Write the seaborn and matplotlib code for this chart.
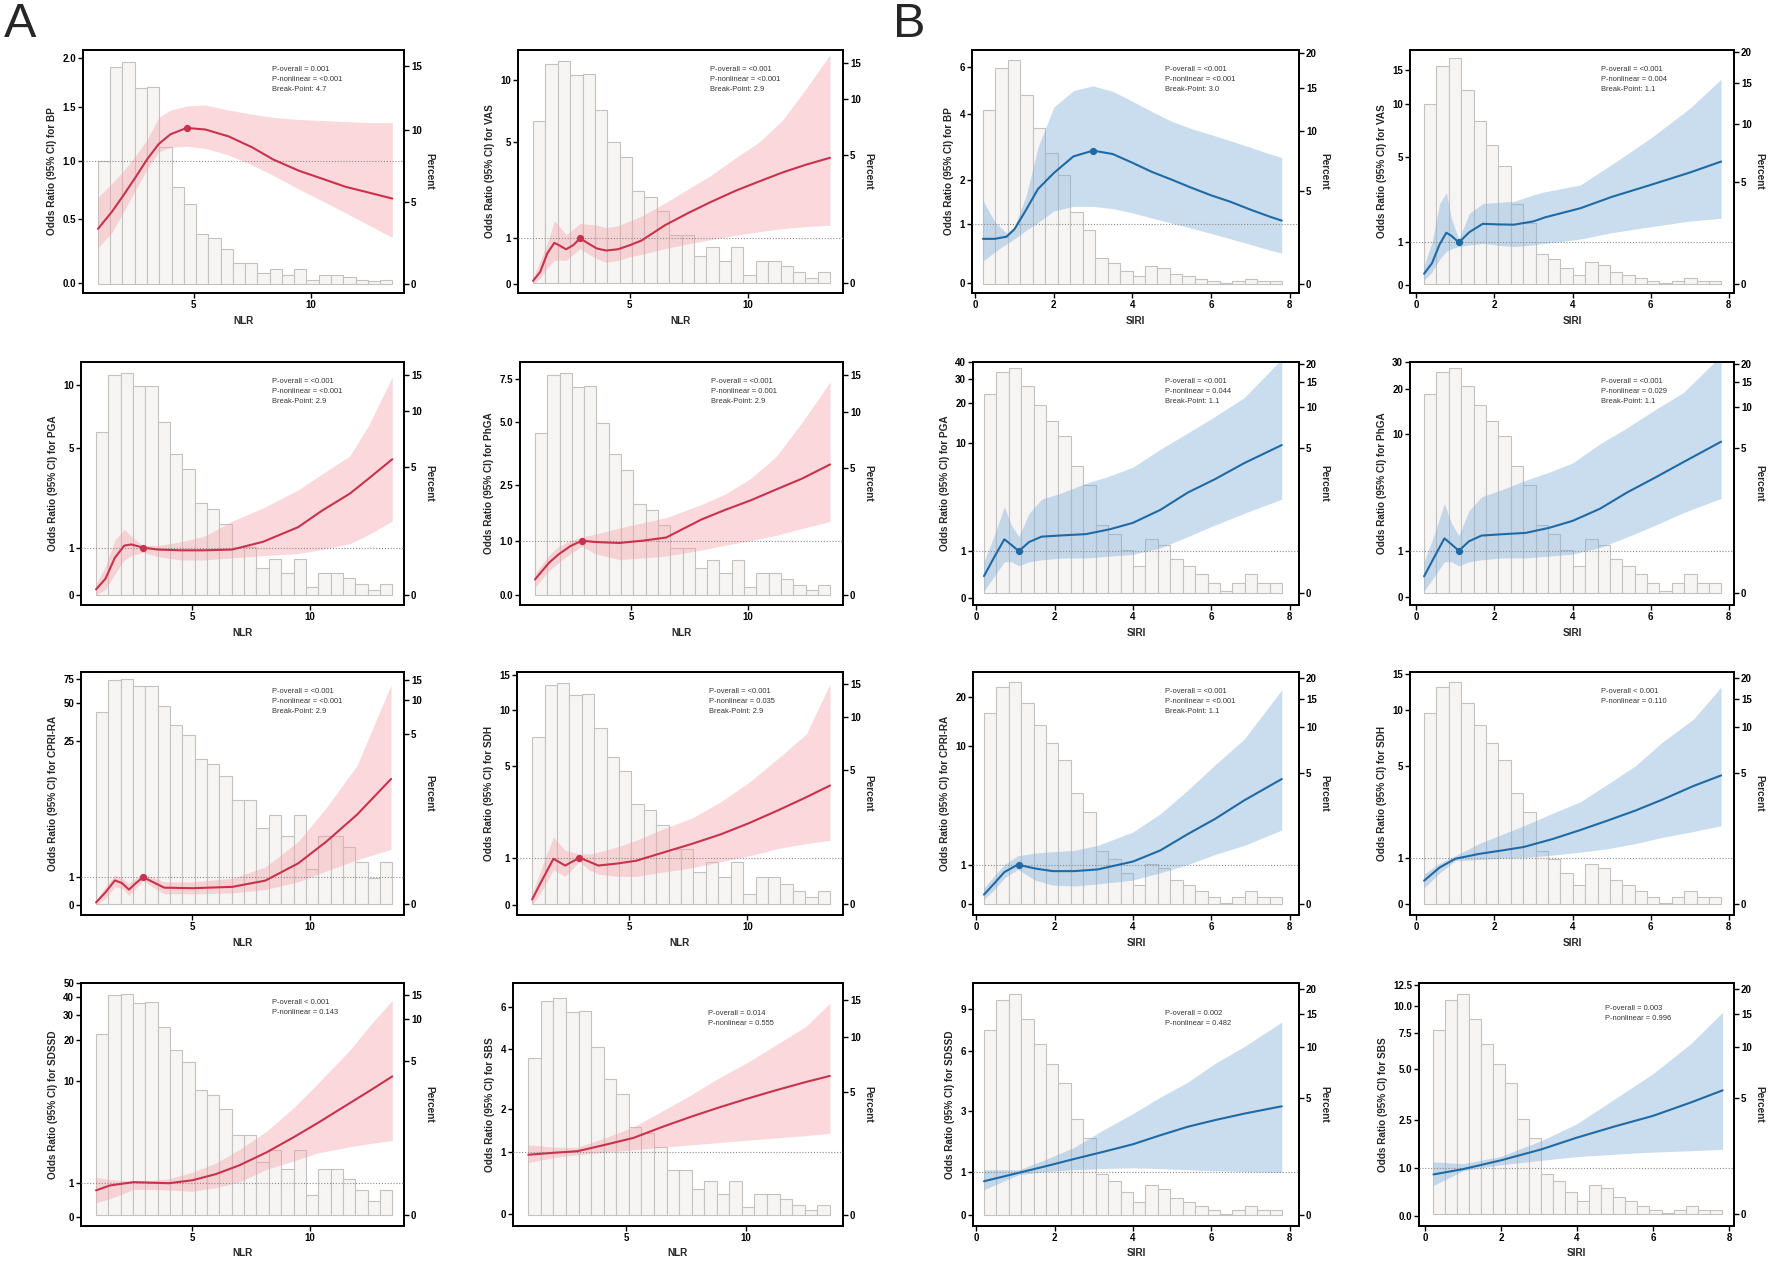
import numpy as np
import pandas as pd
import matplotlib.pyplot as plt
import seaborn as sns

# ============================================
# RCS curves (OR with 95% CI) for NLR and SIRI
# ============================================

# Histogram of the exposure (percent of patients per bin)
NLR_BIN_START, NLR_BIN_WIDTH = 0.9, 0.525
SIRI_BIN_START, SIRI_BIN_WIDTH = 0.2, 0.317
NLR_PCT = [7.8, 14.9, 15.3, 13.2, 13.3, 8.8, 6.0, 4.9, 2.96, 2.7, 2.07, 1.22,
           1.22, 0.63, 0.86, 0.51, 0.86, 0.18, 0.51, 0.51, 0.37, 0.23, 0.12, 0.23]
SIRI_PCT = [12.3, 17.7, 18.9, 14.1, 10.3, 7.96, 6.15, 3.6, 2.56, 1.1, 0.88, 0.55,
            0.31, 0.76, 0.65, 0.41, 0.31, 0.2, 0.1, 0.02, 0.1, 0.2, 0.1, 0.1]

# ---- NLR panels ----
A_BP_X = [0.9, 1.5, 2.0, 2.5, 3.0, 3.5, 4.0, 4.7, 5.5, 6.5, 7.5, 8.4, 9.5, 10.5, 11.5, 12.5, 13.5]
A_BP_OR = [0.42, 0.56, 0.70, 0.85, 1.01, 1.15, 1.24, 1.30, 1.285, 1.22, 1.12, 1.01, 0.91, 0.84, 0.77, 0.72, 0.67]
A_BP_LO = [0.27, 0.39, 0.56, 0.74, 0.92, 1.08, 1.12, 1.13, 1.11, 1.05, 0.96, 0.87, 0.75, 0.65, 0.55, 0.45, 0.35]
A_BP_HI = [0.68, 0.80, 0.91, 1.04, 1.19, 1.40, 1.47, 1.51, 1.52, 1.47, 1.43, 1.40, 1.38, 1.37, 1.36, 1.35, 1.35]

A_VAS_X = [0.9, 1.2, 1.5, 1.8, 2.0, 2.3, 2.6, 2.9, 3.2, 3.6, 4.0, 4.5, 5.0, 5.5, 6.5, 7.5, 8.4, 9.5, 10.5, 11.5, 12.5, 13.5]
A_VAS_OR = [0.05, 0.22, 0.62, 0.88, 0.82, 0.72, 0.82, 1.0, 0.88, 0.74, 0.69, 0.72, 0.82, 0.94, 1.37, 1.76, 2.12, 2.57, 2.96, 3.37, 3.75, 4.1]
A_VAS_LO = [0.0, 0.1, 0.3, 0.46, 0.47, 0.46, 0.6, 0.74, 0.62, 0.5, 0.42, 0.46, 0.54, 0.6, 0.74, 0.86, 0.96, 1.08, 1.18, 1.27, 1.33, 1.37]
A_VAS_HI = [0.1, 0.45, 0.86, 1.5, 1.35, 1.1, 1.25, 1.43, 1.4, 1.37, 1.3, 1.35, 1.5, 1.65, 2.1, 2.65, 3.2, 4.1, 5.0, 6.5, 9.2, 13.0]

A_PGA_X = [0.9, 1.3, 1.7, 2.1, 2.4, 2.9, 3.5, 4.5, 5.5, 6.7, 8.0, 9.5, 10.5, 11.7, 12.5, 13.5]
A_PGA_OR = [0.1, 0.3, 0.75, 1.05, 1.08, 1.0, 0.95, 0.93, 0.93, 0.95, 1.15, 1.57, 2.1, 2.75, 3.4, 4.36]
A_PGA_LO = [0.0, 0.1, 0.4, 0.7, 0.8, 0.88, 0.78, 0.7, 0.7, 0.75, 0.8, 0.85, 0.95, 1.1, 1.35, 1.76]
A_PGA_HI = [0.2, 0.55, 1.2, 1.5, 1.3, 1.05, 1.05, 1.15, 1.3, 1.76, 2.2, 2.9, 3.6, 4.55, 6.5, 10.8]

A_PHGA_X = [0.9, 1.5, 1.9, 2.4, 2.9, 3.5, 4.5, 5.5, 6.5, 8.0, 9.0, 10.1, 11.2, 12.3, 13.5]
A_PHGA_OR = [0.25, 0.55, 0.71, 0.88, 1.0, 0.97, 0.95, 1.0, 1.07, 1.5, 1.75, 2.02, 2.35, 2.7, 3.2]
A_PHGA_LO = [0.12, 0.4, 0.55, 0.72, 0.88, 0.72, 0.61, 0.64, 0.68, 0.8, 0.9, 1.0, 1.12, 1.28, 1.45]
A_PHGA_HI = [0.35, 0.7, 0.87, 1.0, 1.08, 1.15, 1.29, 1.42, 1.55, 1.9, 2.2, 2.7, 3.5, 5.0, 7.3]

A_CPRI_X = [0.9, 1.3, 1.7, 2.0, 2.3, 2.6, 2.9, 3.3, 3.8, 5.0, 6.7, 8.1, 9.5, 10.7, 12.0, 13.45]
A_CPRI_OR = [0.08, 0.4, 0.86, 0.75, 0.5, 0.75, 1.0, 0.8, 0.57, 0.55, 0.6, 0.85, 1.7, 3.2, 6.0, 12.4]
A_CPRI_LO = [0.0, 0.2, 0.6, 0.55, 0.3, 0.55, 0.85, 0.6, 0.35, 0.35, 0.38, 0.5, 0.8, 1.3, 1.9, 2.6]
A_CPRI_HI = [0.15, 0.6, 1.1, 0.95, 0.75, 0.95, 1.15, 1.0, 0.8, 0.8, 0.95, 1.5, 3.2, 7.0, 16.0, 68.0]

A_SDH_X = [0.9, 1.3, 1.8, 2.3, 2.9, 3.3, 3.7, 4.5, 5.3, 6.5, 7.7, 8.9, 10.1, 11.3, 12.5, 13.5]
A_SDH_OR = [0.1, 0.45, 0.97, 0.8, 1.0, 0.9, 0.8, 0.85, 0.92, 1.15, 1.4, 1.7, 2.1, 2.6, 3.2, 3.8]
A_SDH_LO = [0.0, 0.25, 0.7, 0.55, 0.9, 0.7, 0.6, 0.55, 0.55, 0.65, 0.75, 0.9, 1.05, 1.25, 1.4, 1.5]
A_SDH_HI = [0.2, 0.75, 1.6, 1.2, 1.1, 1.1, 1.15, 1.3, 1.5, 1.9, 2.3, 3.0, 4.0, 5.5, 7.5, 13.5]

A_SDSSD_X = [0.9, 1.5, 2.5, 3.2, 4.0, 5.0, 6.0, 7.0, 8.15, 9.3, 10.3, 11.7, 12.6, 13.5]
A_SDSSD_OR = [0.73, 0.9, 1.02, 1.0, 0.98, 1.09, 1.34, 1.74, 2.43, 3.43, 4.58, 6.78, 8.6, 10.9]
A_SDSSD_LO = [0.36, 0.47, 0.76, 0.76, 0.74, 0.7, 0.82, 1.03, 1.55, 1.95, 2.39, 2.78, 3.0, 3.2]
A_SDSSD_HI = [1.2, 1.12, 1.05, 1.08, 1.15, 1.42, 1.85, 2.6, 3.9, 6.2, 9.5, 17.0, 26.0, 38.0]

A_SBS_X = [0.9, 2.0, 2.95, 4.1, 5.3, 6.5, 7.7, 8.9, 10.1, 11.3, 12.5, 13.5]
A_SBS_OR = [0.95, 0.99, 1.02, 1.15, 1.3, 1.55, 1.8, 2.05, 2.3, 2.55, 2.8, 3.0]
A_SBS_LO = [0.8, 0.9, 0.95, 1.0, 1.05, 1.1, 1.15, 1.2, 1.25, 1.3, 1.35, 1.4]
A_SBS_HI = [1.15, 1.1, 1.1, 1.3, 1.55, 1.95, 2.4, 2.95, 3.5, 4.2, 5.0, 6.2]

# ---- SIRI panels ----
B_BP_X = [0.2, 0.5, 0.8, 1.0, 1.3, 1.6, 2.0, 2.5, 3.0, 3.5, 4.0, 4.5, 5.0, 5.5, 6.0, 6.5, 7.0, 7.5, 7.8]
B_BP_OR = [0.72, 0.72, 0.76, 0.9, 1.3, 1.77, 2.17, 2.63, 2.8, 2.7, 2.45, 2.2, 2.0, 1.8, 1.62, 1.47, 1.3, 1.15, 1.07]
B_BP_LO = [0.34, 0.49, 0.63, 0.72, 0.88, 1.03, 1.27, 1.37, 1.37, 1.32, 1.23, 1.12, 1.02, 0.92, 0.82, 0.72, 0.62, 0.52, 0.47]
B_BP_HI = [1.5, 1.05, 0.82, 0.95, 1.62, 2.9, 4.27, 4.93, 5.13, 4.9, 4.5, 4.1, 3.75, 3.5, 3.3, 3.1, 2.9, 2.7, 2.6]

B_VAS_X = [0.2, 0.4, 0.6, 0.77, 0.9, 1.09, 1.36, 1.7, 2.1, 2.5, 3.0, 3.3, 4.2, 5.0, 6.0, 7.0, 7.8]
B_VAS_OR = [0.22, 0.45, 0.95, 1.3, 1.2, 1.0, 1.32, 1.6, 1.58, 1.57, 1.69, 1.84, 2.2, 2.7, 3.3, 4.0, 4.7]
B_VAS_LO = [0.09, 0.25, 0.55, 0.75, 0.82, 0.88, 0.93, 0.97, 0.92, 0.88, 0.93, 0.97, 1.1, 1.3, 1.5, 1.7, 1.8]
B_VAS_HI = [0.4, 1.0, 2.4, 2.9, 1.8, 1.1, 2.0, 2.4, 2.45, 2.5, 2.8, 2.95, 3.3, 4.5, 6.5, 9.5, 13.5]

B_PGA_X = [0.2, 0.45, 0.72, 0.9, 1.09, 1.35, 1.67, 2.2, 2.8, 3.4, 4.0, 4.7, 5.4, 6.1, 6.84, 7.8]
B_PGA_OR = [0.37, 0.8, 1.4, 1.2, 1.0, 1.3, 1.5, 1.55, 1.6, 1.8, 2.1, 2.8, 4.0, 5.2, 7.0, 9.7]
B_PGA_LO = [0.1, 0.35, 0.7, 0.7, 0.6, 0.7, 0.75, 0.8, 0.8, 0.85, 0.9, 1.1, 1.5, 2.0, 2.6, 3.5]
B_PGA_HI = [0.7, 1.5, 3.0, 2.0, 1.5, 2.6, 3.5, 4.0, 4.8, 5.5, 6.5, 9.0, 12.0, 16.0, 22.0, 42.0]

B_PHGA_X = [0.2, 0.45, 0.72, 0.9, 1.09, 1.35, 1.67, 2.2, 2.8, 3.4, 4.0, 4.7, 5.4, 6.1, 6.84, 7.8]
B_PHGA_OR = [0.37, 0.8, 1.4, 1.2, 1.0, 1.3, 1.5, 1.55, 1.6, 1.8, 2.1, 2.7, 3.7, 4.8, 6.3, 8.8]
B_PHGA_LO = [0.1, 0.35, 0.7, 0.7, 0.6, 0.7, 0.75, 0.8, 0.8, 0.85, 0.9, 1.1, 1.45, 1.9, 2.5, 3.3]
B_PHGA_HI = [0.7, 1.5, 3.0, 2.0, 1.5, 2.6, 3.4, 3.9, 4.6, 5.3, 6.2, 8.5, 11.0, 14.5, 19.0, 33.0]

B_CPRI_X = [0.2, 0.45, 0.72, 1.06, 1.5, 1.95, 2.5, 3.1, 4.0, 4.7, 5.4, 6.1, 6.84, 7.8]
B_CPRI_OR = [0.2, 0.45, 0.77, 1.0, 0.88, 0.8, 0.8, 0.85, 1.1, 1.5, 2.2, 3.0, 4.2, 6.0]
B_CPRI_LO = [0.1, 0.3, 0.6, 0.85, 0.55, 0.42, 0.4, 0.45, 0.55, 0.75, 1.0, 1.35, 1.7, 2.4]
B_CPRI_HI = [0.35, 0.65, 1.0, 1.3, 1.4, 1.45, 1.5, 1.7, 2.3, 3.3, 5.0, 7.5, 11.0, 22.0]

B_SDH_X = [0.2, 0.6, 1.0, 1.6, 2.2, 2.75, 3.5, 4.2, 4.9, 5.6, 6.3, 7.1, 7.8]
B_SDH_OR = [0.45, 0.75, 0.97, 1.1, 1.2, 1.3, 1.55, 1.85, 2.2, 2.6, 3.1, 3.8, 4.4]
B_SDH_LO = [0.3, 0.62, 0.92, 0.95, 0.98, 1.0, 1.07, 1.15, 1.25, 1.4, 1.6, 1.8, 2.0]
B_SDH_HI = [0.6, 0.85, 1.05, 1.4, 1.7, 2.0, 2.5, 3.0, 3.9, 5.0, 6.8, 9.0, 13.0]

B_SDSSD_X = [0.2, 1.1, 1.8, 2.5, 3.2, 4.0, 4.7, 5.4, 6.1, 6.84, 7.8]
B_SDSSD_OR = [0.75, 0.97, 1.15, 1.35, 1.55, 1.8, 2.1, 2.4, 2.65, 2.9, 3.2]
B_SDSSD_LO = [0.55, 0.92, 1.0, 1.05, 1.08, 1.1, 1.08, 1.05, 1.02, 1.0, 0.97]
B_SDSSD_HI = [1.05, 1.05, 1.35, 1.7, 2.25, 2.9, 3.6, 4.3, 5.3, 6.3, 8.0]

B_SBS_X = [0.22, 1.0, 2.0, 3.06, 4.0, 5.0, 6.0, 7.0, 7.83]
B_SBS_OR = [0.83, 0.96, 1.19, 1.5, 1.87, 2.26, 2.66, 3.23, 3.8]
B_SBS_LO = [0.58, 0.92, 1.07, 1.19, 1.29, 1.36, 1.42, 1.46, 1.5]
B_SBS_HI = [1.15, 1.1, 1.3, 1.77, 2.36, 3.4, 4.7, 6.7, 9.4]

# ============================================
# Styling / layout (pixel boxes of the 16 panels)
# ============================================
W, H = 1772, 1261
COL_RIGHT = [404, 843, 1299, 1734]
PANEL_LEFT = [[83, 518, 972, 1410],
              [81, 520, 973, 1410],
              [81, 517, 973, 1410],
              [81, 513, 973, 1419]]
ROW_TOP = [50, 362, 672, 983]
ROW_H = 243
XLIM = {('NLR', 0): (0.26, 14.0), ('NLR', 1): (0.26, 14.05),
        ('SIRI', 2): (-0.08, 8.24), ('SIRI', 3): (-0.16, 8.13)}

RED, RED_BAND = '#c8324c', '#f4a3aa'
BLUE, BLUE_BAND = '#1f6aa5', '#7fb0d8'
BAR_FACE, BAR_EDGE = '#f7f4f4', '#c4c1c1'

sns.set_theme(style='ticks')
plt.rcParams['font.family'] = ['Liberation Sans', 'DejaVu Sans']
plt.rcParams['font.weight'] = 'bold'
plt.rcParams['axes.labelweight'] = 'bold'

PCT_A = [0, 5, 10, 15]
PCT_B = [0, 5, 10, 15, 20]

# each panel: data, y ticks and where those ticks sit (fraction of axis height)
PANELS = [
    dict(r=0, c=0, ex='NLR', out='BP', d=(A_BP_X, A_BP_OR, A_BP_LO, A_BP_HI), bp=(4.7, 1.30),
         txt=['P-overall = 0.001', 'P-nonlinear = <0.001', 'Break-Point: 4.7'],
         yt=[0, 0.5, 1, 1.5, 2], yl=['0.0', '0.5', '1.0', '1.5', '2.0'], yf=[.042, .30, .547, .768, .967],
         pf=[.04, .370, .675, .934]),
    dict(r=0, c=1, ex='NLR', out='VAS', d=(A_VAS_X, A_VAS_OR, A_VAS_LO, A_VAS_HI), bp=(2.9, 1.0),
         txt=['P-overall = <0.001', 'P-nonlinear = <0.001', 'Break-Point: 2.9'],
         yt=[0, 1, 5, 10], yl=['0', '1', '5', '10'], yf=[.044, .214, .633, .87],
         pf=[.04, .564, .80, .945]),
    dict(r=0, c=2, ex='SIRI', out='BP', d=(B_BP_X, B_BP_OR, B_BP_LO, B_BP_HI), bp=(3.0, 2.8),
         txt=['P-overall = <0.001', 'P-nonlinear = <0.001', 'Break-Point: 3.0'],
         yt=[0, 1, 2, 4, 6], yl=['0', '1', '2', '4', '6'], yf=[.042, .276, .469, .742, .927],
         pf=[.04, .414, .671, .849, .984]),
    dict(r=0, c=3, ex='SIRI', out='VAS', d=(B_VAS_X, B_VAS_OR, B_VAS_LO, B_VAS_HI), bp=(1.09, 1.0),
         txt=['P-overall = <0.001', 'P-nonlinear = 0.004', 'Break-Point: 1.1'],
         yt=[0, 1, 5, 10, 15], yl=['0', '1', '5', '10', '15'], yf=[.04, .195, .568, .781, .911],
         pf=[.04, .45, .70, .87, .985]),
    dict(r=1, c=0, ex='NLR', out='PGA', d=(A_PGA_X, A_PGA_OR, A_PGA_LO, A_PGA_HI), bp=(2.9, 1.0),
         txt=['P-overall = <0.001', 'P-nonlinear = <0.001', 'Break-Point: 2.9'],
         yt=[0, 1, 5, 10], yl=['0', '1', '5', '10'], yf=[.045, .226, .658, .901],
         pf=[.04, .564, .802, .946]),
    dict(r=1, c=1, ex='NLR', out='PhGA', d=(A_PHGA_X, A_PHGA_OR, A_PHGA_LO, A_PHGA_HI), bp=(2.9, 1.0),
         txt=['P-overall = <0.001', 'P-nonlinear = 0.001', 'Break-Point: 2.9'],
         yt=[0, 1, 2.5, 5, 7.5], yl=['0.0', '1.0', '2.5', '5.0', '7.5'], yf=[.045, .254, .501, .757, .926],
         pf=[.04, .56, .80, .945]),
    dict(r=1, c=2, ex='SIRI', out='PGA', d=(B_PGA_X, B_PGA_OR, B_PGA_LO, B_PGA_HI), bp=(1.09, 1.0),
         txt=['P-overall = <0.001', 'P-nonlinear = 0.044', 'Break-Point: 1.1'],
         yt=[0, 1, 10, 20, 30, 40], yl=['0', '1', '10', '20', '30', '40'], yf=[.05, .181, .735, .870, .949, 1.0],
         pf=[.05, .642, .823, .921, .986]),
    dict(r=1, c=3, ex='SIRI', out='PhGA', d=(B_PHGA_X, B_PHGA_OR, B_PHGA_LO, B_PHGA_HI), bp=(1.09, 1.0),
         txt=['P-overall = <0.001', 'P-nonlinear = 0.029', 'Break-Point: 1.1'],
         yt=[0, 1, 10, 20, 30], yl=['0', '1', '10', '20', '30'], yf=[.05, .181, .767, .902, .977],
         pf=[.05, .642, .823, .921, .986]),
    dict(r=2, c=0, ex='NLR', out='CPRI-RA', d=(A_CPRI_X, A_CPRI_OR, A_CPRI_LO, A_CPRI_HI), bp=(2.9, 1.0),
         txt=['P-overall = <0.001', 'P-nonlinear = <0.001', 'Break-Point: 2.9'],
         yt=[0, 1, 25, 50, 75], yl=['0', '1', '25', '50', '75'], yf=[.045, .147, .724, .875, .963],
         pf=[.045, .744, .888, .967]),
    dict(r=2, c=1, ex='NLR', out='SDH', d=(A_SDH_X, A_SDH_OR, A_SDH_LO, A_SDH_HI), bp=(2.9, 1.0),
         txt=['P-overall = <0.001', 'P-nonlinear = 0.035', 'Break-Point: 2.9'],
         yt=[0, 1, 5, 10, 15], yl=['0', '1', '5', '10', '15'], yf=[.045, .223, .623, .851, .981],
         pf=[.045, .597, .816, .947]),
    dict(r=2, c=2, ex='SIRI', out='CPRI-RA', d=(B_CPRI_X, B_CPRI_OR, B_CPRI_LO, B_CPRI_HI), bp=(1.1, 1.0),
         txt=['P-overall = <0.001', 'P-nonlinear = <0.001', 'Break-Point: 1.1'],
         yt=[0, 1, 10, 20], yl=['0', '1', '10', '20'], yf=[.045, .205, .70, .896],
         pf=[.045, .583, .775, .896, .97]),
    dict(r=2, c=3, ex='SIRI', out='SDH', d=(B_SDH_X, B_SDH_OR, B_SDH_LO, B_SDH_HI), bp=None,
         txt=['P-overall < 0.001', 'P-nonlinear = 0.110'],
         yt=[0, 1, 5, 10, 15], yl=['0', '1', '5', '10', '15'], yf=[.045, .233, .614, .848, .988],
         pf=[.045, .583, .775, .896, .97]),
    dict(r=3, c=0, ex='NLR', out='SDSSD', d=(A_SDSSD_X, A_SDSSD_OR, A_SDSSD_LO, A_SDSSD_HI), bp=None,
         txt=['P-overall < 0.001', 'P-nonlinear = 0.143'],
         yt=[0, 1, 10, 20, 30, 40, 50], yl=['0', '1', '10', '20', '30', '40', '50'],
         yf=[.045, .162, .610, .778, .877, .947, 1.0], pf=[.045, .680, .851, .951]),
    dict(r=3, c=1, ex='NLR', out='SBS', d=(A_SBS_X, A_SBS_OR, A_SBS_LO, A_SBS_HI), bp=None,
         txt=['P-overall = 0.014', 'P-nonlinear = 0.555'], ty=0.89,
         yt=[0, 1, 2, 4, 6], yl=['0', '1', '2', '4', '6'], yf=[.045, .32, .465, .730, .904],
         pf=[.045, .55, .78, .93]),
    dict(r=3, c=2, ex='SIRI', out='SDSSD', d=(B_SDSSD_X, B_SDSSD_OR, B_SDSSD_LO, B_SDSSD_HI), bp=None,
         txt=['P-overall = 0.002', 'P-nonlinear = 0.482'], ty=0.89,
         yt=[0, 1, 3, 6, 9], yl=['0', '1', '3', '6', '9'], yf=[.045, .228, .46, .735, .884],
         pf=[.045, .534, .729, .874, .979]),
    dict(r=3, c=3, ex='SIRI', out='SBS', d=(B_SBS_X, B_SBS_OR, B_SBS_LO, B_SBS_HI), bp=None,
         txt=['P-overall = 0.003', 'P-nonlinear = 0.996'], ty=0.91,
         yt=[0, 1, 2.5, 5, 7.5, 10, 12.5], yl=['0.0', '1.0', '2.5', '5.0', '7.5', '10.0', '12.5'],
         yf=[.048, .226, .438, .657, .799, .904, .986], pf=[.048, .534, .729, .874, .979]),
]


def fit_log_scale(vals, fracs):
    """find y -> a + b*log(y + c) that puts the ticks where they are in the figure"""
    vals = np.asarray(vals, float)
    fracs = np.asarray(fracs, float)
    best = None
    for c in np.geomspace(0.05, 300, 800):
        X = np.log(vals + c)
        b, a = np.polyfit(X, fracs, 1)
        err = np.sum((a + b * X - fracs) ** 2)
        if best is None or err < best[0]:
            best = (err, c, a, b)
    _, c, a, b = best
    lo = np.exp((0 - a) / b) - c
    hi = np.exp((1 - a) / b) - c
    return c, lo, hi


def set_log_offset_scale(ax, c, lo, hi):
    def fwd(y):
        return np.log(np.clip(np.asarray(y, float) + c, 1e-9, None))

    def inv(t):
        return np.exp(t) - c
    ax.set_yscale('function', functions=(fwd, inv))
    ax.set_ylim(lo, hi)


fig = plt.figure(figsize=(W / 100, H / 100), dpi=100)

for p in PANELS:
    left, top = PANEL_LEFT[p['r']][p['c']], ROW_TOP[p['r']]
    w = COL_RIGHT[p['c']] - left
    ax = fig.add_axes([left / W, 1 - (top + ROW_H) / H, w / W, ROW_H / H])
    ax2 = ax.twinx()

    is_nlr = p['ex'] == 'NLR'
    xlim = XLIM[(p['ex'], p['c'])]
    if is_nlr:
        start, bw, pct, xt = NLR_BIN_START, NLR_BIN_WIDTH, NLR_PCT, [5, 10]
        col, band, pticks = RED, RED_BAND, PCT_A
    else:
        start, bw, pct, xt = SIRI_BIN_START, SIRI_BIN_WIDTH, SIRI_PCT, [0, 2, 4, 6, 8]
        col, band, pticks = BLUE, BLUE_BAND, PCT_B

    # histogram on the secondary (percent) axis
    edges = [start + bw * i for i in range(len(pct) + 1)]
    hist_df = pd.DataFrame({'mid': [e + bw / 2 for e in edges[:-1]], 'pct': pct})
    sns.histplot(data=hist_df, x='mid', weights='pct', bins=edges, ax=ax2, color=BAR_FACE,
                 edgecolor=BAR_EDGE, linewidth=0.8, alpha=1.0)
    c2, lo2, hi2 = fit_log_scale(pticks, p['pf'])
    set_log_offset_scale(ax2, c2, lo2, hi2)
    ax2.set_yticks(pticks)
    ax2.set_yticklabels([str(t) for t in pticks])
    ax2.set_ylabel('Percent', rotation=270, labelpad=9, fontsize=7.2)

    # OR curve on the primary axis, drawn above the bars
    ax.set_zorder(ax2.get_zorder() + 1)
    ax.patch.set_visible(False)
    x, orv, lo, hi = p['d']
    ax.fill_between(x, lo, hi, color=band, alpha=0.42, lw=0, zorder=2)
    sns.lineplot(x=x, y=orv, ax=ax, color=col, lw=1.5, zorder=4,
                 solid_joinstyle='round', solid_capstyle='round')
    if p['bp'] is not None:
        ax.plot([p['bp'][0]], [p['bp'][1]], 'o', color=col, ms=4.2, zorder=5)
    ax.axhline(1.0, color='#8a8a8a', lw=0.8, ls=(0, (1.0, 1.6)), zorder=3)

    c1, lo1, hi1 = fit_log_scale(p['yt'], p['yf'])
    set_log_offset_scale(ax, c1, lo1, hi1)
    ax.set_yticks(p['yt'])
    ax.set_yticklabels(p['yl'])
    ax.set_xlim(*xlim)
    ax.set_xticks(xt)
    ax.set_xticklabels([str(t) for t in xt])
    ax.set_xlabel(p['ex'], fontsize=7.2, labelpad=4)
    ax.set_ylabel(f"Odds Ratio (95% CI) for {p['out']}", fontsize=7.2, labelpad=4)

    ax.text(0.59, p.get('ty', 0.935), '\n'.join(p['txt']), transform=ax.transAxes,
            fontsize=5.4, fontweight='normal', color='#333333', va='top', ha='left',
            linespacing=1.6, zorder=6)

    for a in (ax, ax2):
        for s in a.spines.values():
            s.set_linewidth(1.3)
            s.set_color('black')
        a.tick_params(axis='both', direction='out', length=3.5, width=1.0,
                      labelsize=7, pad=1.5, colors='black')
    ax.tick_params(left=True, bottom=True, right=False, top=False)
    ax2.tick_params(right=True, left=False, top=False)

fig.text(4 / W, 1 - 2 / H, 'A', fontsize=35, fontweight='normal', va='top', ha='left')
fig.text(893 / W, 1 - 2 / H, 'B', fontsize=35, fontweight='normal', va='top', ha='left')

fig.savefig('out.png', dpi=100)
